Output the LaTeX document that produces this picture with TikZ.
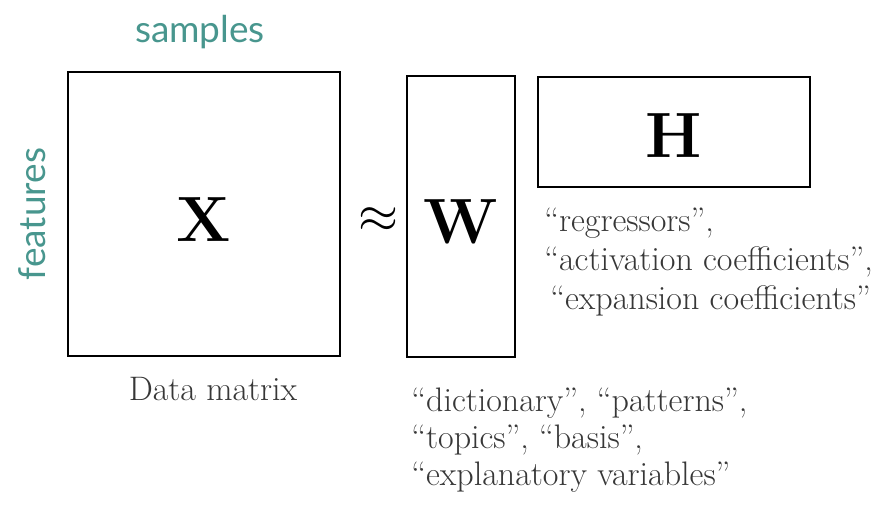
\documentclass[tikz,border=0pt]{standalone}
\usepackage{fontspec}
\newfontfamily\labelfont{Lato}
\usepackage{tikz}
\usetikzlibrary{positioning}
\definecolor{tealtext}{RGB}{72,150,142}
\definecolor{graytext}{RGB}{55,55,55}
\tikzstyle{matrixbox} = [draw=black, line width=1.6pt, inner sep=0pt, font=\fontsize{64}{64}\selectfont\bfseries]
\tikzstyle{axislabel} = [text=tealtext, inner sep=0pt, font=\labelfont\fontsize{37}{37}\selectfont]
\tikzstyle{namelist} = [text=graytext, align=left, inner sep=0pt, font=\fontsize{34}{39}\selectfont]

\begin{document}
\begin{tikzpicture}[x=1pt, y=-1pt]
\useasboundingbox (0,0) rectangle (896,511);

% Matrices
\node (X) [matrixbox, minimum width=272pt, minimum height=284pt, text height=54pt] at (204,214) {X};
\node (W) [matrixbox, minimum width=108pt, minimum height=281pt, text height=54pt] at (461,216.5) {W};
\node (H) [matrixbox, minimum width=272pt, minimum height=110pt, text height=50pt] at (674,132) {H};
\node (approx) [inner sep=0pt] at (378,220) {\resizebox{40pt}{!}{$\approx$}};

% Axes of X
\node (samples) [axislabel, above=22pt of X, xshift=-4pt] {samples};
\node (features) [axislabel, rotate=90, anchor=south] at ([xshift=-21pt]X.west) {features};
\node (datamatrix) [namelist, below=20pt of X, xshift=9pt] {Data matrix};

% Names
\node (Hnames) [namelist, below right=20pt and 7pt of H.south west] {%
``regressors'',\\
``activation coefficients'',\\
\hspace{6pt}``expansion coefficients''};
\node (Wnames) [namelist, below right=30pt and 5pt of W.south west, font=\fontsize{34}{37}\selectfont] {%
``dictionary'', ``patterns'',\\
``topics'', ``basis'',\\
``explanatory variables''};

\end{tikzpicture}
\end{document}
